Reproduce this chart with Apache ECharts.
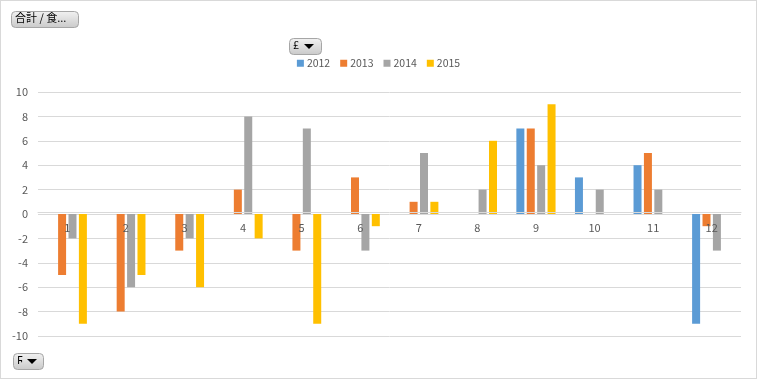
<!DOCTYPE html>
<html><head><meta charset="utf-8">
<script src="https://cdn.jsdelivr.net/npm/echarts@6/dist/echarts.min.js"></script>
<style>html,body{margin:0;padding:0;background:#fff;}#c{width:757px;height:379px;box-sizing:border-box;border:1px solid #d9d9d9;}</style>
</head><body><div id="c"></div>
<script>
const categories = ['1','2','3','4','5','6','7','8','9','10','11','12'];
const seriesNames = ['2012','2013','2014','2015'];
const s2012 = [null,null,null,null,null,null,null,null,7,3,4,-9];
const s2013 = [-5,-8,-3,2,-3,3,1,null,7,null,5,-1];
const s2014 = [-2,-6,-2,8,7,-3,5,2,4,2,2,-3];
const s2015 = [-9,-5,-6,-2,-9,-1,1,6,9,null,null,null];
const colors = ['#5b9bd5','#ed7d31','#a5a5a5','#ffc000'];

const chart = echarts.init(document.getElementById('c'));
const btnFill = new echarts.graphic.LinearGradient(0,0,0,1,[{offset:0,color:'#f2f2f2'},{offset:1,color:'#c9c9c9'}]);
function btn(x,y,w,h){return {type:'rect',left:x,top:y,shape:{width:w,height:h,r:4},style:{fill:btnFill,stroke:'#a6a6a6',lineWidth:1},z:10};}
function arrow(x,y){return {type:'polygon',shape:{points:[[x,y],[x+10,y],[x+5,y+5]]},style:{fill:'#000'},z:11};}
const font = '"Noto Sans CJK JP", "Noto Sans", sans-serif';
chart.setOption({
  animation:false,
  color:colors,
  textStyle:{fontFamily:font},
  grid:{left:37,right:15,top:91,bottom:42,containLabel:false},
  legend:{top:52,left:'center',itemWidth:7,itemHeight:7,itemGap:10,icon:'rect',
    textStyle:{fontSize:10.5,color:'#595959',padding:[0,0,0,-2]}, data:seriesNames},
  xAxis:{type:'category',data:categories,axisTick:{show:false},offset:-124,z:5,
    axisLine:{onZero:false,lineStyle:{color:'#d9d9d9'}},
    axisLabel:{color:'#595959',fontSize:11,margin:10}},
  yAxis:{type:'value',min:-10,max:10,interval:2,
    axisLine:{show:false},axisTick:{show:false},
    axisLabel:{color:'#595959',fontSize:11,margin:10},
    splitLine:{lineStyle:{color:'#d9d9d9'}}},
  series:[
    {name:seriesNames[0],type:'bar',data:s2012,barWidth:8,barGap:'30%'},
    {name:seriesNames[1],type:'bar',data:s2013,barWidth:8,barGap:'30%'},
    {name:seriesNames[2],type:'bar',data:s2014,barWidth:8,barGap:'30%'},
    {name:seriesNames[3],type:'bar',data:s2015,barWidth:8,barGap:'30%'}
  ],
  graphic:[
    btn(10,10,67,16),
    {type:'text',left:14,top:11,style:{text:'合計 / 食...',fontSize:11,fill:'#000',fontFamily:font},z:11},
    btn(288,37,32,16),
    {type:'text',left:292,top:38,style:{text:'£',fontSize:11,fill:'#000',fontFamily:font},z:11},
    arrow(303,43),
    btn(12,352,30,16),
    {type:'text',left:16,top:353,style:{text:'Ϝ',fontSize:11,fill:'#000',fontFamily:font},z:11},
    arrow(26,358)
  ]
});
</script></body></html>
